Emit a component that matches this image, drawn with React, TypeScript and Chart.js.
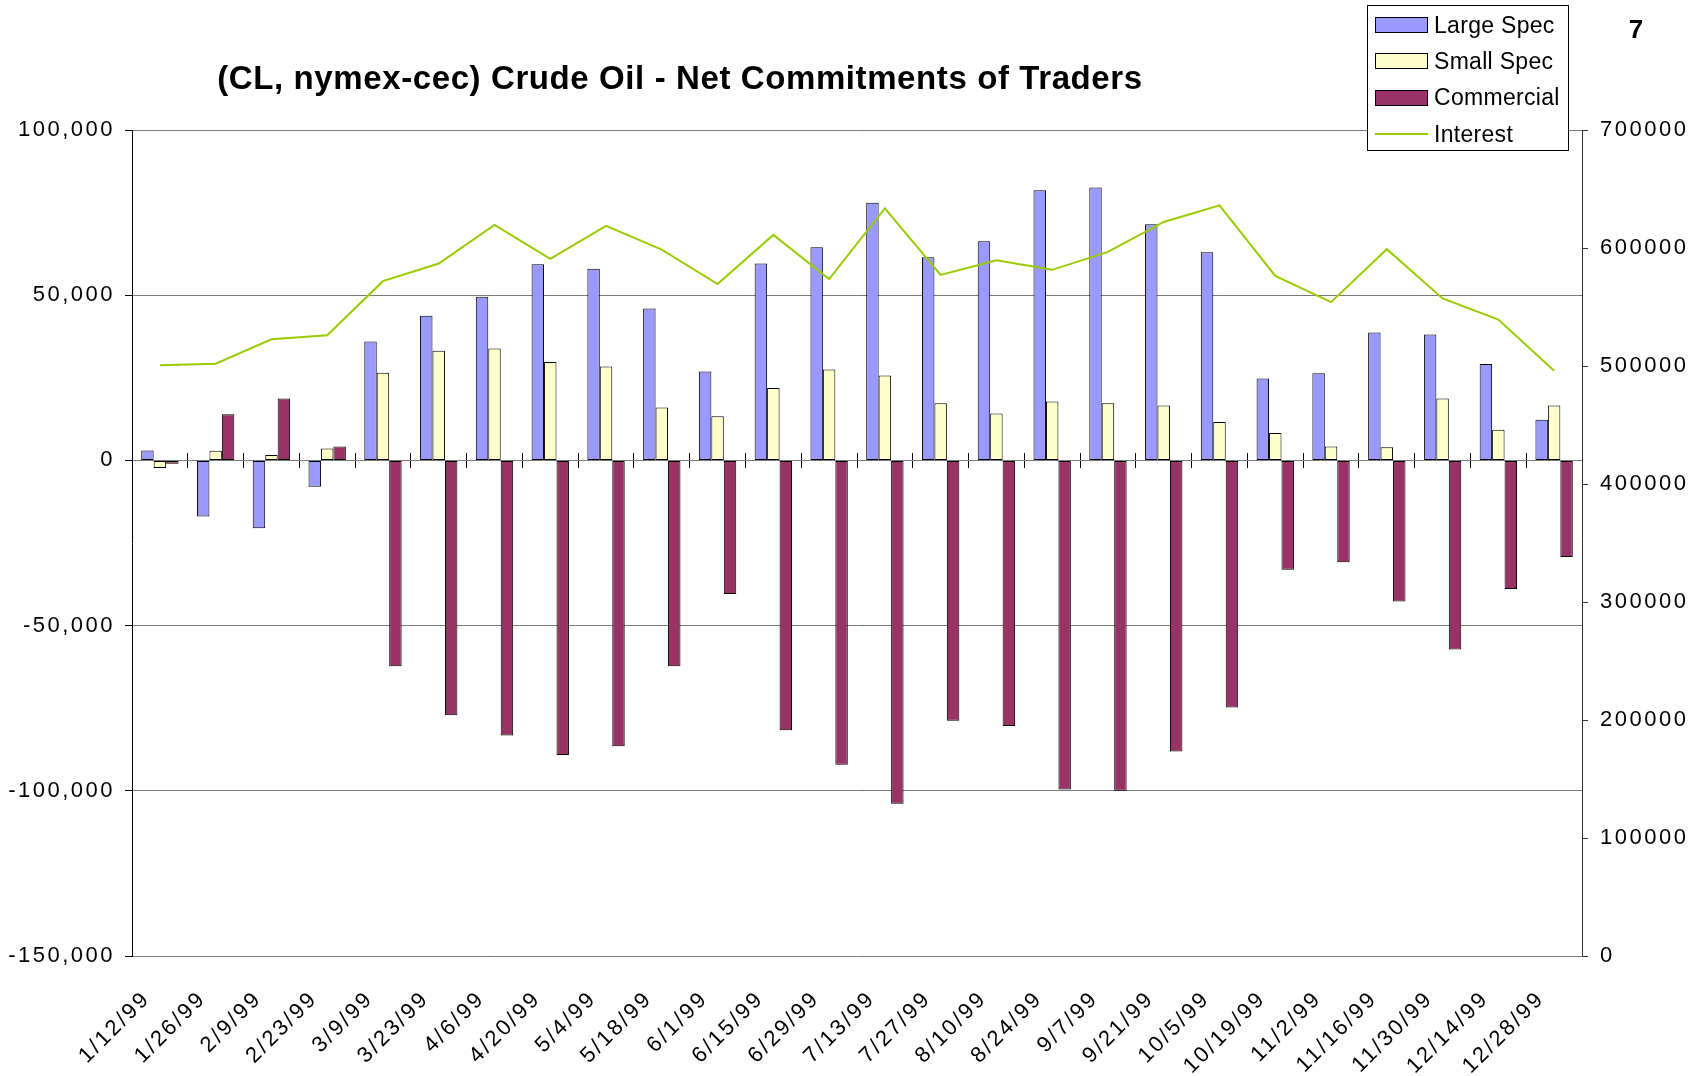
import React, { useEffect, useRef } from 'react';
import { Chart, registerables } from 'chart.js';

Chart.register(...registerables);

const dates = [
  '1/12/99', '1/26/99', '2/9/99', '2/23/99', '3/9/99', '3/23/99', '4/6/99', '4/20/99',
  '5/4/99', '5/18/99', '6/1/99', '6/15/99', '6/29/99', '7/13/99', '7/27/99', '8/10/99',
  '8/24/99', '9/7/99', '9/21/99', '10/5/99', '10/19/99', '11/2/99', '11/16/99', '11/30/99',
  '12/14/99', '12/28/99',
];

const largeSpec = [
  3000, -17000, -20500, -8000, 36000, 43800, 49500, 59400, 58000, 46000, 26900, 59600, 64500,
  78000, 61500, 66300, 81800, 82600, 71500, 63000, 24800, 26400, 38700, 38100, 29200, 12300,
];

const smallSpec = [
  -2300, 2900, 1600, 3600, 26500, 33200, 33900, 29800, 28400, 16000, 13400, 21900, 27500,
  25700, 17300, 14200, 17800, 17300, 16600, 11600, 8300, 4200, 4000, 18700, 9300, 16600,
];

const commercial = [
  -1000, 14000, 18700, 4200, -62300, -77100, -83300, -89200, -86500, -62300, -40400, -81700,
  -92100, -103900, -78800, -80400, -99600, -100000, -88100, -74800, -33100, -30800, -42700,
  -57200, -38900, -29200,
];

const interest = [
  500700, 501900, 522700, 526100, 571900, 586800, 619600, 590800, 618700, 598700, 569400,
  611100, 573600, 633700, 577200, 589600, 581500, 596700, 622100, 636200, 576400, 554100,
  599000, 557200, 539300, 495900,
];

const leftAxis = { min: -150000, max: 100000, step: 50000 };
const rightAxis = { min: 0, max: 700000, step: 100000 };

const titleText = '(CL, nymex-cec) Crude Oil - Net Commitments of Traders';
const pageNumber = '7';

const FONT = '"Liberation Sans", Arial, Helvetica, sans-serif';

const legendItems = [
  { label: 'Large Spec', kind: 'box', color: '#9999FF' },
  { label: 'Small Spec', kind: 'box', color: '#FFFFCC' },
  { label: 'Commercial', kind: 'box', color: '#993366' },
  { label: 'Interest', kind: 'line', color: '#99CC00' },
];

export default function App() {
  const ref = useRef<HTMLCanvasElement | null>(null);

  useEffect(() => {
    if (!ref.current) return;
    const spacing = {
      id: 'tickSpacing',
      beforeLayout(c: any) {
        c.ctx.letterSpacing = '2.5px';
      },
      beforeDraw(c: any) {
        c.ctx.letterSpacing = '2.5px';
      },
    };
    const tickFont = { family: FONT, size: 22 };
    const barCommon = {
      type: 'bar' as const,
      borderColor: '#000000',
      borderWidth: 1,
      borderSkipped: false as const,
      categoryPercentage: 0.67,
      barPercentage: 1,
      yAxisID: 'y',
      xAxisID: 'x',
      order: 1,
    };
    const chart = new Chart(ref.current, {
      type: 'bar',
      data: {
        labels: dates,
        datasets: [
          {
            type: 'line',
            label: 'Interest',
            data: interest,
            borderColor: '#99CC00',
            backgroundColor: '#99CC00',
            borderWidth: 2,
            pointRadius: 0,
            pointHoverRadius: 0,
            tension: 0,
            fill: false,
            yAxisID: 'y1',
            xAxisID: 'x',
            order: 0,
          } as any,
          { ...barCommon, label: 'Large Spec', data: largeSpec, backgroundColor: '#9999FF' },
          { ...barCommon, label: 'Small Spec', data: smallSpec, backgroundColor: '#FFFFCC' },
          { ...barCommon, label: 'Commercial', data: commercial, backgroundColor: '#993366' },
        ],
      },
      options: {
        responsive: false,
        animation: false,
        devicePixelRatio: 1,
        layout: { padding: { top: 130, left: 0, right: 0, bottom: 0 } },
        plugins: {
          legend: { display: false },
          title: { display: false },
          tooltip: { enabled: false },
        },
        scales: {
          x: {
            type: 'category',
            position: 'bottom',
            offset: true,
            grid: { display: false },
            border: { display: false },
            ticks: {
              autoSkip: false,
              minRotation: 45,
              maxRotation: 45,
              font: tickFont,
              color: '#000000',
              padding: 22,
              labelOffset: -13,
            },
            afterFit(scale: any) {
              scale.height = 120;
            },
          },
          x0: {
            type: 'category',
            position: { y: 2300 } as any,
            offset: true,
            grid: {
              display: true,
              offset: true,
              drawOnChartArea: false,
              drawTicks: true,
              tickLength: 15,
              color: '#000000',
            },
            border: { display: false },
            ticks: { display: false },
            afterFit(scale: any) {
              scale.height = 0;
            },
          },
          y: {
            type: 'linear',
            position: 'left',
            min: leftAxis.min,
            max: leftAxis.max,
            ticks: {
              stepSize: leftAxis.step,
              font: tickFont,
              color: '#000000',
              padding: 10,
              callback: (v: any) => Number(v).toLocaleString('en-US'),
            },
            grid: {
              color: '#7a7a7a',
              lineWidth: 1,
              drawTicks: true,
              tickLength: 7,
              tickColor: '#000000',
            },
            border: { display: true, color: '#000000', width: 1 },
            afterFit(scale: any) {
              scale.width = 132;
            },
          },
          y1: {
            type: 'linear',
            position: 'right',
            min: rightAxis.min,
            max: rightAxis.max,
            ticks: {
              stepSize: rightAxis.step,
              font: tickFont,
              color: '#000000',
              padding: 12,
              callback: (v: any) => String(v),
            },
            grid: {
              drawOnChartArea: false,
              drawTicks: true,
              tickLength: 6,
              tickColor: '#333333',
            },
            border: { display: true, color: '#333333', width: 1 },
            afterFit(scale: any) {
              scale.width = 117;
            },
          },
        },
      },
      plugins: [spacing],
    });
    return () => chart.destroy();
  }, []);

  const rowCenters = [25, 61, 97.5, 134];

  return (
    <div
      style={{
        position: 'absolute',
        left: 0,
        top: 0,
        width: 1699,
        height: 1076,
        background: '#ffffff',
        overflow: 'hidden',
        fontFamily: FONT,
        color: '#000',
      }}
    >
      <canvas
        ref={ref}
        width={1699}
        height={1076}
        style={{ position: 'absolute', left: 0, top: 0, display: 'block' }}
      />
      <div
        style={{
          position: 'absolute',
          left: 180,
          top: 61,
          width: 1000,
          textAlign: 'center',
          fontSize: 33,
          lineHeight: '33px',
          fontWeight: 'bold',
          letterSpacing: '0.6px',
          whiteSpace: 'nowrap',
        }}
      >
        {titleText}
      </div>
      <div
        style={{
          position: 'absolute',
          left: 1367,
          top: 5,
          width: 200,
          height: 144,
          border: '1px solid #000',
          background: '#fff',
        }}
      />
      {legendItems.map((it, i) => (
        <div
          key={it.label}
          style={{
            position: 'absolute',
            left: 1375,
            top: rowCenters[i] - 18,
            height: 36,
            display: 'flex',
            alignItems: 'center',
            whiteSpace: 'nowrap',
          }}
        >
          {it.kind === 'box' ? (
            <span
              style={{
                display: 'inline-block',
                boxSizing: 'border-box',
                width: 53,
                height: 16,
                background: it.color,
                border: '1px solid #000',
              }}
            />
          ) : (
            <span
              style={{ display: 'inline-block', width: 53, height: 2, background: it.color }}
            />
          )}
          <span style={{ marginLeft: 6, fontSize: 23, lineHeight: '23px', letterSpacing: '0.3px' }}>
            {it.label}
          </span>
        </div>
      ))}
      <div
        style={{
          position: 'absolute',
          left: 1616,
          top: 16,
          width: 40,
          textAlign: 'center',
          fontSize: 26,
          lineHeight: '26px',
          fontWeight: 'bold',
        }}
      >
        {pageNumber}
      </div>
    </div>
  );
}
